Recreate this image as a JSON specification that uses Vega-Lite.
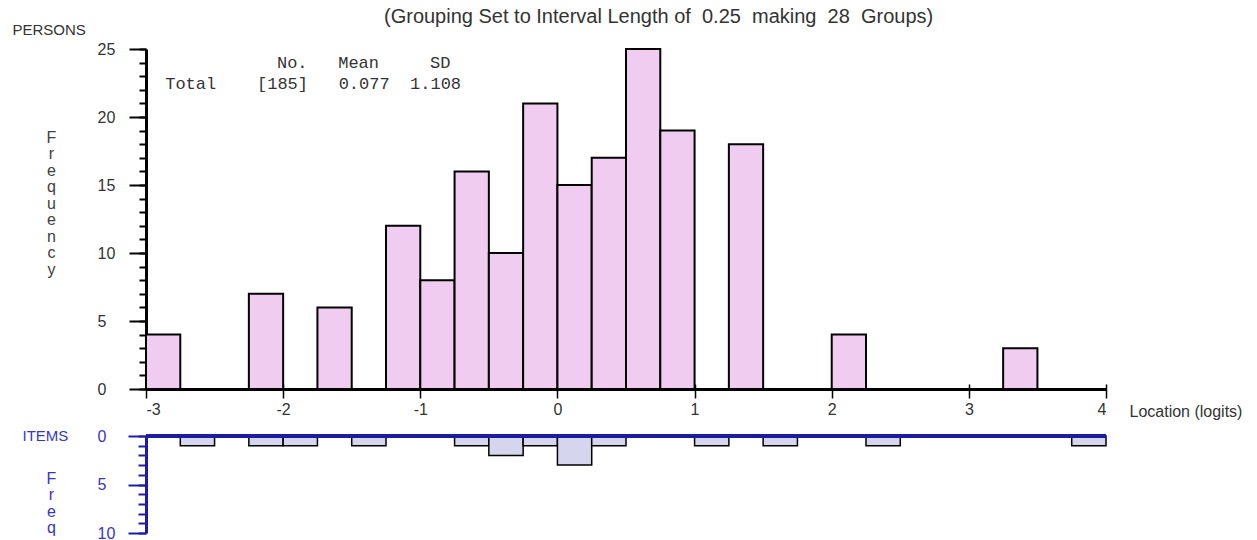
{
  "$schema": "https://vega.github.io/schema/vega-lite/v6.json",
  "width": 960,
  "height": 484,
  "autosize": {"type": "none"},
  "padding": {"left": 146, "top": 49, "right": 151, "bottom": 7},
  "background": "white",
  "config": {
    "view": {"stroke": null},
    "font": "Liberation Sans",
    "axis": {"grid": false, "labelFont": "Liberation Sans", "titleFont": "Liberation Sans"}
  },
  "title": {
    "text": "(Grouping Set to Interval Length of \u00a00.25 \u00a0making \u00a028 \u00a0Groups)",
    "anchor": "start",
    "frame": "group",
    "dx": 238,
    "offset": -21,
    "baseline": "alphabetic",
    "font": "Liberation Sans",
    "fontSize": 20,
    "fontWeight": "normal",
    "color": "#333333"
  },
  "datasets": {
    "persons": [
      {"lo": -3.0, "hi": -2.75, "n": 4},
      {"lo": -2.25, "hi": -2.0, "n": 7},
      {"lo": -1.75, "hi": -1.5, "n": 6},
      {"lo": -1.25, "hi": -1.0, "n": 12},
      {"lo": -1.0, "hi": -0.75, "n": 8},
      {"lo": -0.75, "hi": -0.5, "n": 16},
      {"lo": -0.5, "hi": -0.25, "n": 10},
      {"lo": -0.25, "hi": 0.0, "n": 21},
      {"lo": 0.0, "hi": 0.25, "n": 15},
      {"lo": 0.25, "hi": 0.5, "n": 17},
      {"lo": 0.5, "hi": 0.75, "n": 25},
      {"lo": 0.75, "hi": 1.0, "n": 19},
      {"lo": 1.25, "hi": 1.5, "n": 18},
      {"lo": 2.0, "hi": 2.25, "n": 4},
      {"lo": 3.25, "hi": 3.5, "n": 3}
    ],
    "items": [
      {"lo": -2.75, "hi": -2.5, "n": 1},
      {"lo": -2.25, "hi": -2.0, "n": 1},
      {"lo": -2.0, "hi": -1.75, "n": 1},
      {"lo": -1.5, "hi": -1.25, "n": 1},
      {"lo": -0.75, "hi": -0.5, "n": 1},
      {"lo": -0.5, "hi": -0.25, "n": 2},
      {"lo": -0.25, "hi": 0.0, "n": 1},
      {"lo": 0.0, "hi": 0.25, "n": 3},
      {"lo": 0.25, "hi": 0.5, "n": 1},
      {"lo": 1.0, "hi": 1.25, "n": 1},
      {"lo": 1.5, "hi": 1.75, "n": 1},
      {"lo": 2.25, "hi": 2.5, "n": 1},
      {"lo": 3.75, "hi": 4.0, "n": 1}
    ],
    "statsHead": [
      {"text": "No.\u00a0\u00a0\u00a0Mean\u00a0\u00a0\u00a0\u00a0\u00a0SD"}
    ],
    "statsBody": [
      {"text": "Total\u00a0\u00a0\u00a0\u00a0[185]\u00a0\u00a0\u00a00.077\u00a0\u00a01.108"}
    ]
  },
  "layer": [
    {
      "data": {"name": "persons"},
      "mark": {"type": "rect", "fill": "#f0cdf0", "stroke": "#000000", "strokeWidth": 2},
      "encoding": {
        "x": {
          "field": "lo",
          "type": "quantitative",
          "scale": {"domain": [-3, 4], "nice": false, "zero": false},
          "axis": {
            "orient": "bottom",
            "offset": -144,
            "values": [-3, -2, -1, 0, 1, 2, 3, 4],
            "labelExpr": "'' + datum.value",
            "domainColor": "#000000",
            "domainWidth": 3,
            "tickColor": "#000000",
            "tickWidth": 1.5,
            "tickSize": 9,
            "labelFontSize": 16,
            "labelColor": "#333333",
            "labelPadding": 3,
            "title": "Location (logits)",
            "titleFontSize": 16,
            "titleFontWeight": "normal",
            "titleColor": "#333333",
            "titleAngle": 0,
            "titleAlign": "left",
            "titleBaseline": "middle",
            "titleX": 983,
            "titleY": 22
          }
        },
        "x2": {"field": "hi"},
        "y": {
          "field": "n",
          "type": "quantitative",
          "scale": {"domain": [0, 25], "range": [340, 0], "nice": false, "zero": false},
          "axis": {
            "orient": "left",
            "values": [0, 5, 10, 15, 20, 25],
            "tickSize": 17,
            "tickWidth": 2,
            "tickColor": "#000000",
            "domainColor": "#000000",
            "domainWidth": 3,
            "labelAlign": "left",
            "labelBaseline": "middle",
            "labelPadding": 32,
            "labelFontSize": 16,
            "labelColor": "#333333",
            "title": "PERSONS",
            "titleAngle": 0,
            "titleAlign": "left",
            "titleBaseline": "middle",
            "titleX": -134,
            "titleY": -20,
            "titleFontSize": 15,
            "titleFontWeight": "normal",
            "titleColor": "#333333"
          }
        },
        "y2": {"datum": 0}
      }
    },
    {
      "data": {"name": "persons"},
      "mark": {"type": "rule", "strokeOpacity": 0},
      "encoding": {
        "x": {
          "datum": 0,
          "type": "quantitative",
          "axis": {
            "orient": "bottom",
            "offset": -144,
            "values": [-3, -2, -1, 0, 1, 2, 3, 4],
            "tickSize": -5,
            "tickWidth": 1.5,
            "tickColor": "#000000",
            "domain": false,
            "labels": false,
            "title": null
          }
        },
        "y": {
          "datum": 0,
          "type": "quantitative",
          "scale": {"domain": [0, 25], "range": [340, 0], "nice": false, "zero": false},
          "axis": {
            "orient": "left",
            "values": [0, 1, 2, 3, 4, 5, 6, 7, 8, 9, 10, 11, 12, 13, 14, 15, 16, 17, 18, 19, 20, 21, 22, 23, 24, 25],
            "tickSize": 7,
            "tickWidth": 2,
            "tickColor": "#000000",
            "domain": false,
            "labels": false,
            "title": ["F", "r", "e", "q", "u", "e", "n", "c", "y"],
            "titleAngle": 0,
            "titleAlign": "center",
            "titleBaseline": "top",
            "titleX": -95,
            "titleY": 80,
            "titleLineHeight": 16.5,
            "titleFontSize": 16,
            "titleFontWeight": "normal",
            "titleColor": "#404040"
          }
        }
      }
    },
    {
      "data": {"name": "statsHead"},
      "mark": {"type": "text", "font": "Liberation Mono", "fontSize": 17, "align": "left", "baseline": "middle", "color": "#333333"},
      "encoding": {
        "x": {"datum": -2.045, "type": "quantitative", "axis": null},
        "y": {
          "datum": 24,
          "type": "quantitative",
          "scale": {"domain": [0, 25], "range": [340, 0], "nice": false, "zero": false},
          "axis": null
        },
        "text": {"field": "text"}
      }
    },
    {
      "data": {"name": "statsBody"},
      "mark": {"type": "text", "font": "Liberation Mono", "fontSize": 17, "align": "left", "baseline": "middle", "color": "#333333"},
      "encoding": {
        "x": {"datum": -2.86, "type": "quantitative", "axis": null},
        "y": {
          "datum": 22.45,
          "type": "quantitative",
          "scale": {"domain": [0, 25], "range": [340, 0], "nice": false, "zero": false},
          "axis": null
        },
        "text": {"field": "text"}
      }
    },
    {
      "data": {"name": "items"},
      "mark": {"type": "rect", "fill": "#d5d5ee", "stroke": "#000000", "strokeWidth": 1.5},
      "encoding": {
        "x": {"field": "lo", "type": "quantitative", "axis": null},
        "x2": {"field": "hi"},
        "y": {
          "field": "n",
          "type": "quantitative",
          "scale": {"domain": [0, 10], "range": [387, 484], "nice": false, "zero": false},
          "axis": {
            "orient": "left",
            "values": [0, 5, 10],
            "tickSize": 18,
            "tickWidth": 2,
            "tickColor": "#1c1ca8",
            "domainColor": "#1c1ca8",
            "domainWidth": 3,
            "labelAlign": "left",
            "labelBaseline": "middle",
            "labelPadding": 31,
            "labelFontSize": 16,
            "labelColor": "#3636c4",
            "title": "ITEMS",
            "titleAngle": 0,
            "titleAlign": "left",
            "titleBaseline": "middle",
            "titleX": -124,
            "titleY": 386,
            "titleFontSize": 15,
            "titleFontWeight": "normal",
            "titleColor": "#3636c4"
          }
        },
        "y2": {"datum": 0}
      }
    },
    {
      "data": {"name": "items"},
      "mark": {"type": "rule", "color": "#1c1ca0", "strokeWidth": 3},
      "encoding": {
        "y": {
          "datum": 0,
          "type": "quantitative",
          "scale": {"domain": [0, 10], "range": [387, 484], "nice": false, "zero": false},
          "axis": {
            "orient": "left",
            "values": [0, 1, 2, 3, 4, 5, 6, 7, 8, 9, 10],
            "tickSize": 8,
            "tickWidth": 2,
            "tickColor": "#1c1ca8",
            "domain": false,
            "labels": false,
            "title": ["F", "r", "e", "q"],
            "titleAngle": 0,
            "titleAlign": "center",
            "titleBaseline": "top",
            "titleX": -95,
            "titleY": 421,
            "titleLineHeight": 16.5,
            "titleFontSize": 16,
            "titleFontWeight": "normal",
            "titleColor": "#3636c4"
          }
        }
      }
    }
  ],
  "resolve": {
    "scale": {"y": "independent"},
    "axis": {"x": "independent", "y": "independent"}
  }
}
